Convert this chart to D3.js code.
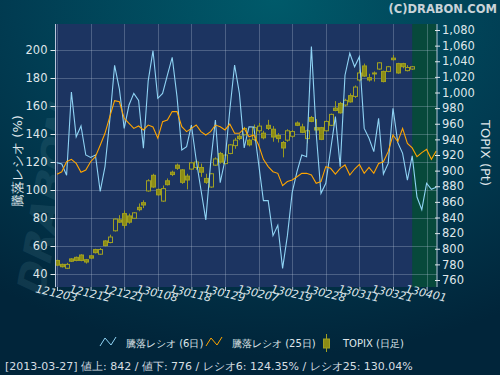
<!DOCTYPE html>
<html>
<head>
<meta charset="utf-8">
<script src="https://cdn.jsdelivr.net/npm/d3@7"></script>
<style>
body { margin: 0; background: #012a3c; }
</style>
</head>
<body>
<div id="chart"></div>
<script>
// date ticks (every 7 trading days)
var tickLabels = ["121203","121212","121221","130108","130118","130129","130207","130219","130228","130311","130321","130401"];
var tickIdx = [0, 7, 14, 21, 28, 35, 42, 49, 56, 63, 70, 77];

// 騰落レシオ 6日 (%)
var ratio6 = [119.5,118.6,110.5,170,138,145.7,125,123.3,125,99,
              116.7,150,189,172,144,160.7,169,164,129.8,178,
              199.5,165.5,169,182,194.8,166.7,128.6,131,146.4,121.4,
              100,78.6,119,150,105.2,121.4,157,189.3,169,130,
              145.2,145,119,92.4,92.4,67.4,74.8,44,67.4,98.3,
              113.1,125,123.8,202.4,140.5,97.6,104.8,128.6,152.4,116.7,
              182,197.6,188,195.2,144,137,127.4,151.2,111.4,119,
              158.3,133.8,126.2,107.1,124.35,95,86,104.8,100.5,102];

// 騰落レシオ 25日 (%)
var ratio25 = [111.2,113,120.2,121.9,119,112.6,114.3,120.2,123.8,132,
               140.5,152.4,163.8,163,151.2,147.6,144,145.7,142.9,146.4,
               145,137,148.8,150,156,156,145.2,141.7,144,146.4,
               141.7,139.3,141.7,146.4,145.2,142.9,147.1,140.5,140.5,144,
               138,139.3,132.1,121.9,116.7,113.1,111.9,103.1,106,107.1,
               109.5,111.9,111.9,110.7,104.8,106,116.7,115.5,111.4,115.5,
               117.9,110.7,115,118.3,111.9,116.2,111.9,119,120.2,127.4,
               139.3,134.5,144,133.3,130.04,123.8,126.7,129,121.9,127.9];

// TOPIX 日足
var topixOpen  = [785,780,775,787,789,792,786,791,799,793,810,808,823,837,845,842,839,853,859,874,
                  894,876,861,887,898,907,901,893,902,904,904,890,879,907,922,909,922,932,944,946,
                  939,940,951,948,958,953,945,936,939,944,961,956,941,968,955,955,951,958,980,986,
                  984,996,995,1016,1034,1019,1025,1030,1027,1027,1044,1037,1037,1028,1030];
var topixClose = [779,777,780,784,785,785,783,788,795,799,804,815,838,834,830,834,846,850,856,887,
                  879,869,877,882,895,903,885,888,910,911,898,885,896,915,911,920,933,939,941,954,
                  933,955,957,942,954,943,941,929,951,950,958,949,951,963,952,940,963,972,977,974,
                  990,988,1007,1025,1021,1016,1024,1038,1014,1033,1042,1025,1033,1032,1033];
var topixHigh  = [786,781,782,788,790,793,787,792,800,801,811,818,839,843,849,845,847,858,862,889,
                  896,877,881,890,900,909,902,896,911,914,909,896,897,917,924,921,934,942,947,956,
                  941,959,961,951,965,957,948,938,953,952,963,960,953,970,966,956,964,973,989,988,
                  992,999,1009,1029,1037,1024,1027,1039,1028,1034,1048,1038,1038,1035,1034];
var topixLow   = [778,776,774,783,784,784,781,787,794,792,803,807,822,833,826,832,838,848,852,873,
                  878,868,860,881,893,901,883,876,901,901,892,883,878,906,909,908,921,928,939,945,
                  931,938,948,940,952,937,936,917,937,942,957,948,935,962,948,939,950,957,976,973,
                  982,987,993,1014,1020,1014,1014,1029,1013,1026,1041,1024,1031,1027,1029];

var legendNames = ["騰落レシオ (6日)", "騰落レシオ (25日)", "TOPIX (日足)"];
var infoText = "[2013-03-27]  値上: 842 / 値下: 776 / レシオ6: 124.35% / レシオ25: 130.04%";
var leftTicks = [40, 60, 80, 100, 120, 140, 160, 180, 200];
var rightTicks = d3.range(760, 1081, 20);

var W = 500, H = 375;
var plot = { left: 55.5, right: 437, top: 24, bottom: 287 };

var svg = d3.select("#chart").append("svg")
    .attr("width", W).attr("height", H)
    .style("font-family", "'DejaVu Sans', sans-serif");

var defs = svg.append("defs");
var bg = defs.append("radialGradient").attr("id", "bg")
    .attr("cx", "55%").attr("cy", "0%").attr("r", "95%");
bg.append("stop").attr("offset", "0%").attr("stop-color", "#005a6a");
bg.append("stop").attr("offset", "55%").attr("stop-color", "#013c52");
bg.append("stop").attr("offset", "100%").attr("stop-color", "#01253a");

svg.append("rect").attr("width", W).attr("height", H).attr("fill", "url(#bg)");

// faint watermark
svg.append("text")
    .attr("transform", "translate(44,300) rotate(-80) skewX(-15)")
    .attr("font-size", 40).attr("font-weight", "bold")
    .attr("fill", "#6a9aa8").attr("opacity", 0.15)
    .text("DRABON");

// scales
var x = d3.scaleLinear().domain([0, 79]).range([57, 436.2]);
var yL = d3.scaleLinear().domain([40, 200]).range([274, 50]);
var yR = d3.scaleLinear().domain([760, 1080]).range([280, 30]);

// plot background
svg.append("rect")
    .attr("x", plot.left).attr("y", plot.top)
    .attr("width", plot.right - plot.left).attr("height", plot.bottom - plot.top)
    .attr("fill", "#1c3461");
svg.append("rect")
    .attr("x", x(topixOpen.length - 1)).attr("y", plot.top)
    .attr("width", plot.right - x(topixOpen.length - 1)).attr("height", plot.bottom - plot.top)
    .attr("fill", "#07493b");

// grid
var grid = svg.append("g").attr("stroke", "#b8c6da").attr("stroke-opacity", 0.3).attr("stroke-width", 1);
grid.selectAll(".hg").data(leftTicks).enter().append("line")
    .attr("x1", plot.left).attr("x2", plot.right)
    .attr("y1", function(d) { return Math.round(yL(d)) + 0.5; })
    .attr("y2", function(d) { return Math.round(yL(d)) + 0.5; });
grid.selectAll(".vg").data(tickIdx).enter().append("line")
    .attr("y1", plot.top).attr("y2", plot.bottom)
    .attr("x1", function(d) { return Math.round(x(d)) + 0.5; })
    .attr("x2", function(d) { return Math.round(x(d)) + 0.5; });

// candles
var cw = 4;
var candles = svg.append("g");
topixOpen.forEach(function(o, i) {
    var c = topixClose[i];
    var up = c >= o;
    var cx = Math.round(x(i)) + 0.5;
    candles.append("line")
        .attr("x1", cx).attr("x2", cx)
        .attr("y1", yR(topixHigh[i])).attr("y2", yR(topixLow[i]))
        .attr("stroke", "#9a9a1e").attr("stroke-width", 1);
    var top = yR(Math.max(o, c)), bot = yR(Math.min(o, c));
    candles.append("rect")
        .attr("x", cx - cw / 2).attr("y", top)
        .attr("width", cw).attr("height", Math.max(1, bot - top))
        .attr("fill", up ? "#1c3461" : "#8c8c16")
        .attr("stroke", "#a0a022").attr("stroke-width", 1);
});

// ratio lines
var line6 = d3.line().x(function(d, i) { return x(i); }).y(function(d) { return yL(d); });
svg.append("path").datum(ratio6)
    .attr("d", line6).attr("fill", "none")
    .attr("stroke", "#8fd3f4").attr("stroke-width", 1.1);
svg.append("path").datum(ratio25)
    .attr("d", line6).attr("fill", "none")
    .attr("stroke", "#ffa500").attr("stroke-width", 1.1);

// axes
var axisColor = "#dfe6ea";
var gl = svg.append("g").attr("transform", "translate(" + plot.left + ",0)")
    .call(d3.axisLeft(yL).tickValues(leftTicks).tickSize(5).tickPadding(3));
gl.select(".domain").attr("d", "M0," + plot.top + "V" + plot.bottom).attr("stroke", "#b8c6da");
gl.selectAll(".tick line").attr("stroke", axisColor);
gl.selectAll("text").attr("fill", axisColor).attr("font-size", 11.5).attr("font-family", "'DejaVu Sans', sans-serif");

var gr = svg.append("g").attr("transform", "translate(" + plot.right + ",0)")
    .call(d3.axisRight(yR).tickValues(rightTicks).tickSize(3).tickPadding(2)
        .tickFormat(d3.format(",")));
gr.select(".domain").attr("d", "M0," + plot.top + "V" + plot.bottom).attr("stroke", "#b8c6da");
gr.selectAll(".tick line").attr("x1", -2).attr("stroke", axisColor);
gr.selectAll("text").attr("fill", axisColor).attr("font-size", 11.5).attr("font-family", "'DejaVu Sans', sans-serif");

var gx = svg.append("g").attr("transform", "translate(0," + plot.bottom + ")")
    .call(d3.axisBottom(x).tickValues(tickIdx).tickSize(4)
        .tickFormat(function(d, i) { return tickLabels[i]; }));
gx.select(".domain").remove();
gx.selectAll(".tick line").attr("stroke", "#b8c6da");
gx.selectAll("text")
    .attr("fill", axisColor).attr("font-size", 11).attr("font-style", "italic")
    .attr("font-family", "'DejaVu Sans', sans-serif")
    .attr("text-anchor", "middle").attr("y", 0).attr("dy", 0)
    .attr("transform", "translate(-2,10) rotate(13)");

// axis titles
svg.append("text")
    .attr("transform", "translate(22,161) rotate(-90)")
    .attr("text-anchor", "middle").attr("font-size", 13).attr("fill", axisColor)
    .text("騰落レシオ (%)");
svg.append("text")
    .attr("transform", "translate(481,153) rotate(90)")
    .attr("text-anchor", "middle").attr("font-size", 13).attr("fill", axisColor)
    .text("TOPIX (Pt)");

// copyright
svg.append("text")
    .attr("x", 497).attr("y", 13).attr("text-anchor", "end")
    .attr("font-size", 11.5).attr("font-weight", "bold").attr("fill", "#c9d3d8")
    .text("(C)DRABON.COM");

// legend
var lg = svg.append("g").attr("font-size", 10).attr("fill", "#dfe6ea");
var zig = "M0,9 L5,1 L11,8 L16,0";
lg.append("path").attr("d", zig).attr("transform", "translate(100,337)")
    .attr("fill", "none").attr("stroke", "#8fd3f4").attr("stroke-width", 1);
lg.append("text").attr("x", 126).attr("y", 347).text(legendNames[0]);
lg.append("path").attr("d", zig).attr("transform", "translate(206,337)")
    .attr("fill", "none").attr("stroke", "#ffa500").attr("stroke-width", 1);
lg.append("text").attr("x", 232).attr("y", 347).text(legendNames[1]);
lg.append("line").attr("x1", 326.5).attr("x2", 326.5).attr("y1", 334).attr("y2", 352)
    .attr("stroke", "#a0a022");
lg.append("rect").attr("x", 323.5).attr("y", 339).attr("width", 6).attr("height", 9)
    .attr("fill", "#8c8c16").attr("stroke", "#a0a022");
lg.append("text").attr("x", 343).attr("y", 347).text(legendNames[2]);

// info line
svg.append("text")
    .attr("x", 5).attr("y", 370)
    .attr("font-size", 11).attr("fill", "#d6dee2")
    .text(infoText);
</script>
</body>
</html>
